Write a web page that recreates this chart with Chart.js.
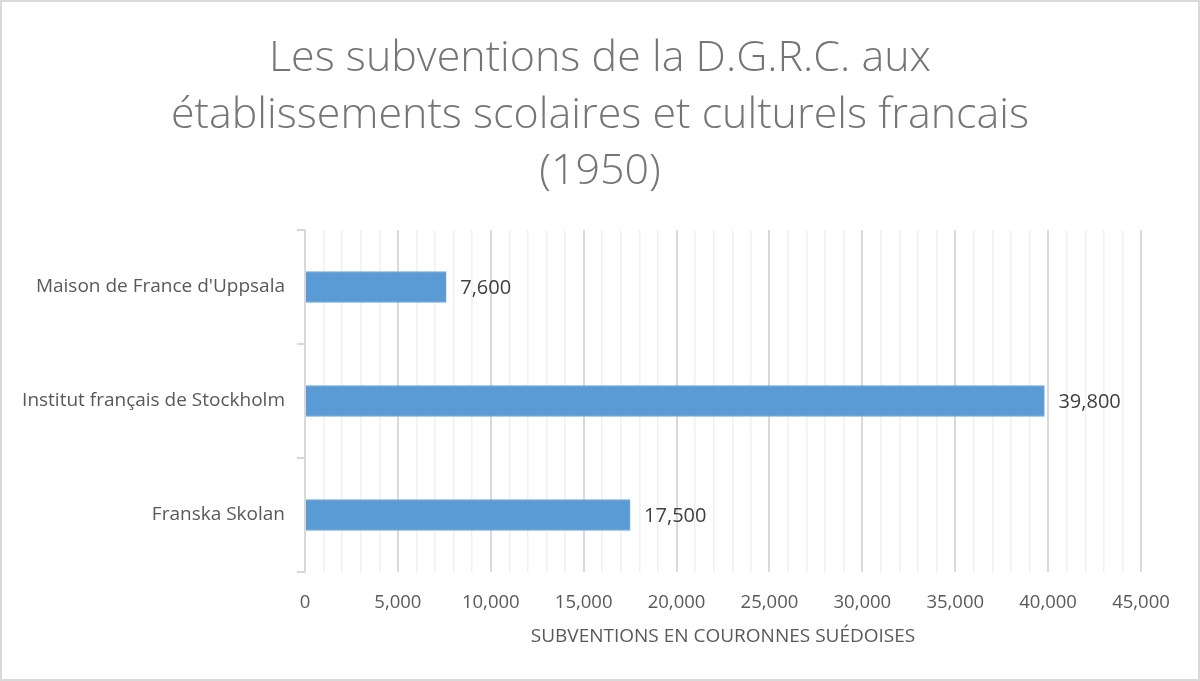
<!DOCTYPE html>
<html lang="fr">
<head>
    <meta charset="UTF-8">
    <title>Les subventions de la D.G.R.C. (1950)</title>
    <script src="https://cdn.jsdelivr.net/npm/chart.js"></script>
    <style>
        html, body { margin: 0; padding: 0; background: #fff; }
        .chart-container { position: relative; width: 1200px; height: 681px; }
    </style>
</head>
<body>

<div class="chart-container">
    <canvas id="subventionsChart"></canvas>
</div>

<script>
    // données
    const categories = ["Maison de France d'Uppsala", 'Institut français de Stockholm', 'Franska Skolan'];
    const subventions = [7600, 39800, 17500];
    const titleLines = ['Les subventions de la D.G.R.C. aux', 'établissements scolaires et culturels francais', '(1950)'];
    const axisTitle = 'SUBVENTIONS EN COURONNES SUÉDOISES';
    const xMax = 45000;
    const majorStep = 5000;
    const minorStep = 1000;

    const fmt = v => v.toLocaleString('en-US');

    // étiquettes de valeur au bout des barres
    const valueLabels = {
        id: 'valueLabels',
        afterDatasetsDraw(chart) {
            const c = chart.ctx;
            const meta = chart.getDatasetMeta(0);
            c.save();
            c.font = '20px "Open Sans"';
            c.fillStyle = '#404040';
            c.textBaseline = 'middle';
            c.textAlign = 'left';
            meta.data.forEach((bar, i) => {
                c.fillText(fmt(subventions[i]), bar.x + 14, bar.y + 1);
            });
            c.restore();
        }
    };

    // cadre gris autour du graphique
    const frame = {
        id: 'frame',
        afterDraw(chart) {
            const c = chart.ctx;
            c.save();
            c.strokeStyle = '#d9d9d9';
            c.lineWidth = 2;
            c.strokeRect(1, 1, chart.width - 2, chart.height - 2);
            c.restore();
        }
    };

    const ctx = document.getElementById('subventionsChart').getContext('2d');

    new Chart(ctx, {
        type: 'bar',
        data: {
            labels: categories,
            datasets: [{
                data: subventions,
                backgroundColor: '#5b9bd5',
                borderColor: '#6fa8dc',
                borderWidth: 1,
                barThickness: 31
            }]
        },
        options: {
            indexAxis: 'y',
            responsive: true,
            maintainAspectRatio: false,
            animation: false,
            layout: {
                padding: 0
            },
            plugins: {
                legend: { display: false },
                tooltip: { enabled: false },
                title: {
                    display: true,
                    text: titleLines,
                    color: '#757575',
                    font: { family: 'Open Sans', size: 43, weight: 300, lineHeight: 1.31 },
                    padding: { top: 31, bottom: 30 }
                }
            },
            scales: {
                x: {
                    min: 0,
                    max: xMax,
                    afterFit: scale => { scale.height = 109; },
                    ticks: {
                        stepSize: minorStep,
                        autoSkip: false,
                        maxRotation: 0,
                        padding: 20,
                        color: '#595959',
                        font: { family: 'Open Sans', size: 18.5 },
                        callback: v => (v % majorStep === 0 ? fmt(v) : '')
                    },
                    grid: {
                        drawTicks: false,
                        color: c => (c.tick && c.tick.value % majorStep === 0 ? '#d9d9d9' : '#f0f0f0'),
                        lineWidth: c => (c.tick && c.tick.value % majorStep === 0 ? 2 : 1.5)
                    },
                    border: { display: false },
                    title: {
                        display: true,
                        text: axisTitle,
                        color: '#595959',
                        font: { family: 'Open Sans', size: 19 },
                        padding: { top: 4, bottom: 33 }
                    }
                },
                y: {
                    afterFit: scale => { scale.width = 305; },
                    ticks: {
                        padding: 12,
                        color: '#595959',
                        font: { family: 'Open Sans', size: 19 }
                    },
                    grid: {
                        drawOnChartArea: false,
                        drawTicks: true,
                        tickLength: 8,
                        color: '#d9d9d9',
                        lineWidth: 2
                    },
                    border: { display: true, color: '#d9d9d9', width: 2 }
                },
                // axe vide à droite : réserve la marge sans décentrer le titre
                yRight: {
                    type: 'category',
                    position: 'right',
                    labels: categories,
                    afterFit: scale => { scale.width = 59; },
                    ticks: { display: false },
                    grid: { display: false },
                    border: { display: false }
                }
            }
        },
        plugins: [valueLabels, frame]
    });
</script>

</body>
</html>
